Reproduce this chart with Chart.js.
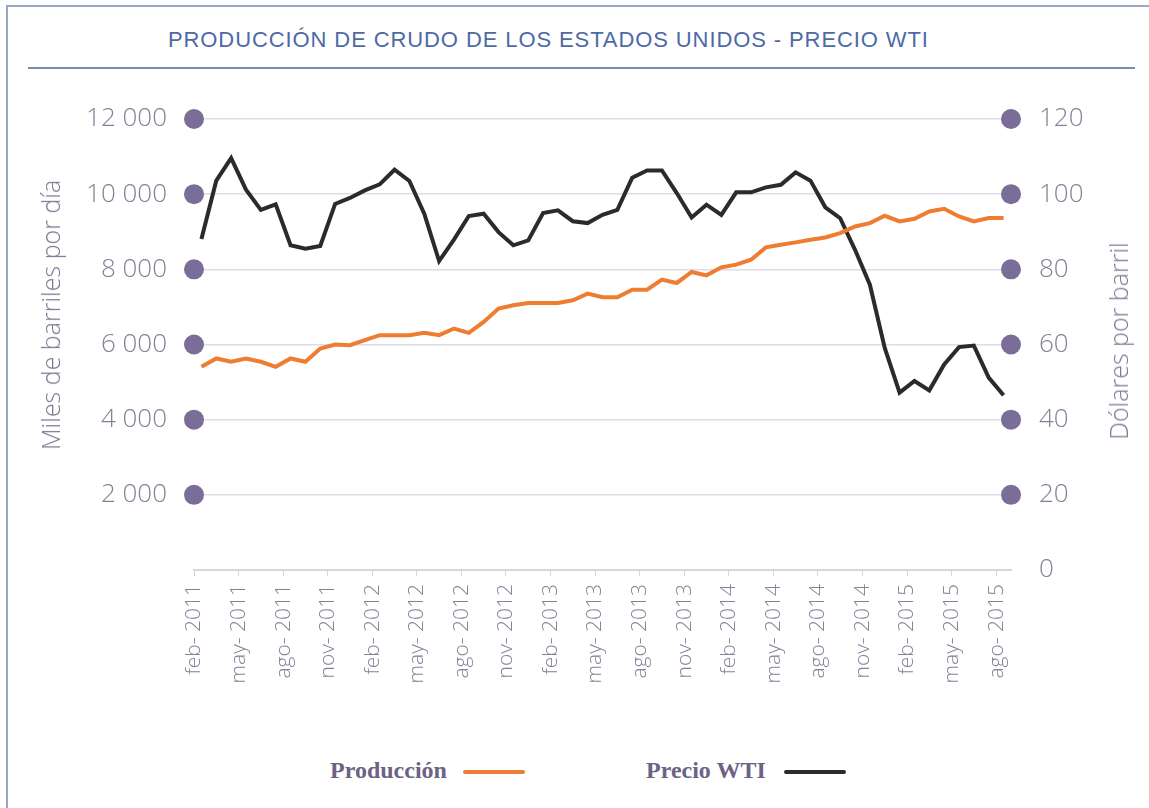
<!DOCTYPE html>
<html lang="es">
<head>
<meta charset="utf-8">
<title>Producción de crudo de los Estados Unidos - Precio WTI</title>
<script src="https://cdn.jsdelivr.net/npm/chart.js@4/dist/chart.umd.min.js"></script>
<style>
  body { margin: 0; background: #fff; }
  #wrap { position: relative; width: 1149px; height: 808px; overflow: hidden; background: #fff; }
  .abs { position: absolute; }
  #title { left: 168px; top: 27px; font: 22px "Liberation Sans", Arial, sans-serif; letter-spacing: 0.9px; color: #4d6aa6; white-space: nowrap; }
  .axtitle { font: 300 25px "Open Sans", sans-serif; color: #7f7894; white-space: nowrap; transform: translate(-50%, -50%) rotate(-90deg); }
  .leg { font: bold 24px "Liberation Serif", "DejaVu Serif", serif; color: #6c6384; white-space: nowrap; top: 757px; }
  .legline { height: 4px; border-radius: 2px; top: 770px; }
</style>
</head>
<body>
<div id="wrap">
  <div class="abs" style="left:6px;top:5px;width:2px;height:803px;background:#9aa6c2"></div>
  <div class="abs" style="left:6px;top:5px;width:1143px;height:2px;background:#9aa6c2"></div>
  <div id="title" class="abs">PRODUCCIÓN DE CRUDO DE LOS ESTADOS UNIDOS - PRECIO WTI</div>
  <div class="abs" style="left:28px;top:67px;width:1107px;height:2px;background:#7c8bb3"></div>
  <canvas id="chart" class="abs" width="1149" height="720" style="left:0;top:0"></canvas>
  <div class="abs axtitle" style="left:50px;top:315px">Miles de barriles por día</div>
  <div class="abs axtitle" style="left:1118px;top:341px">Dólares por barril</div>
  <div class="abs leg" style="left:330px">Producción</div>
  <div class="abs legline" style="left:463px;width:62px;background:#ee7d31"></div>
  <div class="abs leg" style="left:646px">Precio WTI</div>
  <div class="abs legline" style="left:784px;width:62px;background:#2b2b2b"></div>
</div>
<script>
// meses (feb 2011 - ago 2015)
const meses = [
  "feb- 2011", "mar- 2011", "abr- 2011", "may- 2011", "jun- 2011", "jul- 2011", "ago- 2011", "sep- 2011", "oct- 2011", "nov- 2011", "dic- 2011",
  "ene- 2012", "feb- 2012", "mar- 2012", "abr- 2012", "may- 2012", "jun- 2012", "jul- 2012", "ago- 2012", "sep- 2012", "oct- 2012", "nov- 2012", "dic- 2012",
  "ene- 2013", "feb- 2013", "mar- 2013", "abr- 2013", "may- 2013", "jun- 2013", "jul- 2013", "ago- 2013", "sep- 2013", "oct- 2013", "nov- 2013", "dic- 2013",
  "ene- 2014", "feb- 2014", "mar- 2014", "abr- 2014", "may- 2014", "jun- 2014", "jul- 2014", "ago- 2014", "sep- 2014", "oct- 2014", "nov- 2014", "dic- 2014",
  "ene- 2015", "feb- 2015", "mar- 2015", "abr- 2015", "may- 2015", "jun- 2015", "jul- 2015", "ago- 2015"
];

// produccion, miles de barriles por dia
const produccion = [
  5407, 5628, 5540, 5628, 5540, 5407, 5628, 5540, 5894, 6000,
  5982, 6115, 6248, 6248, 6248, 6310, 6248, 6425, 6310, 6602,
  6956, 7044, 7106, 7106, 7106, 7177, 7354, 7256, 7256, 7460,
  7460, 7725, 7637, 7929, 7840, 8053, 8124, 8256, 8584, 8655,
  8717, 8787, 8849, 8964, 9141, 9230, 9425, 9274, 9345, 9540,
  9610, 9407, 9274, 9363, 9363
];

// precio WTI, dolares por barril
const precioWTI = [
  88.1, 103.6, 109.6, 101.2, 95.8, 97.3, 86.4, 85.5, 86.2, 97.4,
  99.0, 101.0, 102.6, 106.5, 103.5, 94.8, 82.2, 87.9, 94.2, 94.8,
  89.9, 86.4, 87.7, 95.0, 95.7, 92.8, 92.3, 94.5, 95.8, 104.4,
  106.3, 106.3, 100.3, 93.8, 97.2, 94.5, 100.5, 100.5, 101.8, 102.5,
  105.8, 103.6, 96.5, 93.6, 85.2, 75.9, 59.1, 47.2, 50.3, 47.8,
  54.7, 59.3, 59.7, 51.2, 46.5
];

const ticksIzq = [0, 2000, 4000, 6000, 8000, 10000, 12000];
const ticksDer = [0, 20, 40, 60, 80, 100, 120];

const tickFont = { family: "'Open Sans', sans-serif", size: 26, weight: 300 };
const tickColor = "#858097";

// puntos morados en los extremos de las lineas de division
const dotsPlugin = {
  id: "dots",
  afterDraw(chart) {
    const ctx = chart.ctx;
    const area = chart.chartArea;
    ctx.save();
    ctx.fillStyle = "#7a6e99";
    [["y", area.left], ["y1", area.right]].forEach(([id, x]) => {
      const scale = chart.scales[id];
      scale.ticks.forEach((t) => {
        if (t.value === 0) return;
        ctx.beginPath();
        ctx.arc(x, scale.getPixelForValue(t.value), 10, 0, Math.PI * 2);
        ctx.fill();
      });
    });
    ctx.restore();
  }
};

new Chart(document.getElementById("chart"), {
  type: "line",
  data: {
    labels: meses,
    datasets: [
      {
        label: "Producción",
        data: produccion,
        yAxisID: "y",
        borderColor: "#ee7d31",
        borderWidth: 4,
        pointRadius: 0,
        tension: 0
      },
      {
        label: "Precio WTI",
        data: precioWTI,
        yAxisID: "y1",
        borderColor: "#2b2b2b",
        borderWidth: 4,
        pointRadius: 0,
        tension: 0
      }
    ]
  },
  options: {
    responsive: false,
    animation: false,
    devicePixelRatio: 1,
    layout: { padding: { top: 119, bottom: 0, left: 0, right: 0 } },
    plugins: {
      legend: { display: false },
      tooltip: { enabled: false }
    },
    scales: {
      x: {
        offset: true,
        afterFit: (s) => { s.height = 150; },
        border: { display: true, color: "#d6d6d6", width: 2 },
        grid: {
          offset: true,
          drawOnChartArea: false,
          tickLength: 6,
          color: (c) => (c.index % 3 === 0 ? "#d6d6d6" : "rgba(0,0,0,0)")
        },
        ticks: {
          autoSkip: false,
          minRotation: 90,
          maxRotation: 90,
          padding: 8,
          labelOffset: -7,
          color: tickColor,
          font: { family: "'Open Sans', sans-serif", size: 21, weight: 300 },
          callback: (v, i) => (i % 3 === 0 ? meses[i] : "")
        }
      },
      y: {
        position: "left",
        min: 0,
        max: 12000,
        afterFit: (s) => { s.width = 194; },
        afterBuildTicks: (s) => { s.ticks = ticksIzq.map((v) => ({ value: v })); },
        border: { display: false },
        grid: {
          drawTicks: false,
          lineWidth: 1.5,
          color: (c) => (c.tick && c.tick.value === 0 ? "#d6d6d6" : "#dddce8")
        },
        ticks: {
          padding: 27,
          color: tickColor,
          font: tickFont,
          callback: (v) => (v === 0 ? "" : v.toLocaleString("en-US").replace(",", " "))
        }
      },
      y1: {
        position: "right",
        min: 0,
        max: 120,
        afterFit: (s) => { s.width = 138; },
        afterBuildTicks: (s) => { s.ticks = ticksDer.map((v) => ({ value: v })); },
        border: { display: false },
        grid: { drawOnChartArea: false, drawTicks: false },
        ticks: {
          padding: 28,
          color: tickColor,
          font: tickFont
        }
      }
    }
  },
  plugins: [dotsPlugin]
});
</script>
</body>
</html>
